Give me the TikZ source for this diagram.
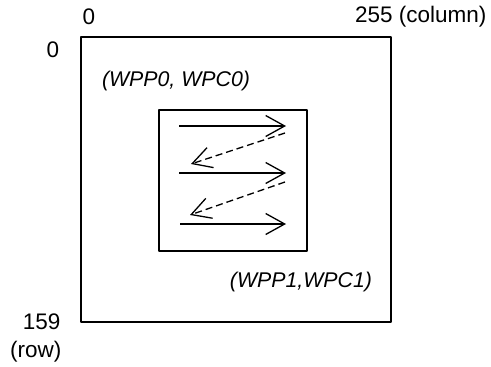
\documentclass[tikz,border=0pt]{standalone}
\usepackage{fontspec}
\setmainfont{Liberation Sans}
\usetikzlibrary{arrows.meta}
\begin{document}
\begin{tikzpicture}[x=1pt, y=-1pt, font=\fontsize{22.5}{27}\selectfont, line join=round,
    frame/.style={line width=1.8pt},
    corner/.style={font=\fontsize{21.3}{25}\selectfont\itshape},
    rowarrow/.style={line width=1.3pt, -{Straight Barb[length=19pt,width=21pt,line width=1.3pt]}},
    backarrow/.style={rowarrow, dash pattern=on 7pt off 4pt}]
    \useasboundingbox (0,0) rectangle (491,367);
    % frame and window
    \draw[frame] (81,37) rectangle (391,322);
    \draw[frame] (159,110) rectangle (307,251);
    % axis labels
    \node (c0) at (89,17) {0};
    \node[anchor=east] (c255) at (490,17) {255 (column)};
    \node (r0) at (53,50) {0};
    \node[anchor=east] (r159) at (64,322) {159};
    \node[anchor=east] (rrow) at (65,352) {(row)};
    \node[corner] (p0) at (176,81) {(WPP0, WPC0)};
    \node[corner] (p1) at (301,282) {(WPP1,WPC1)};
    % scan order
    \coordinate (a1) at (179,126); \coordinate (b1) at (286,126);
    \coordinate (a2) at (179,173); \coordinate (b2) at (286,173);
    \coordinate (a3) at (180,224); \coordinate (b3) at (286,224);
    \coordinate (d1) at (285,133); \coordinate (e1) at (191,164);
    \coordinate (d2) at (285,182); \coordinate (e2) at (190,215);
    \foreach \i in {1,2,3} \draw[rowarrow] (a\i) -- (b\i);
    \foreach \i in {1,2} \draw[backarrow] (d\i) -- (e\i);
\end{tikzpicture}
\end{document}
